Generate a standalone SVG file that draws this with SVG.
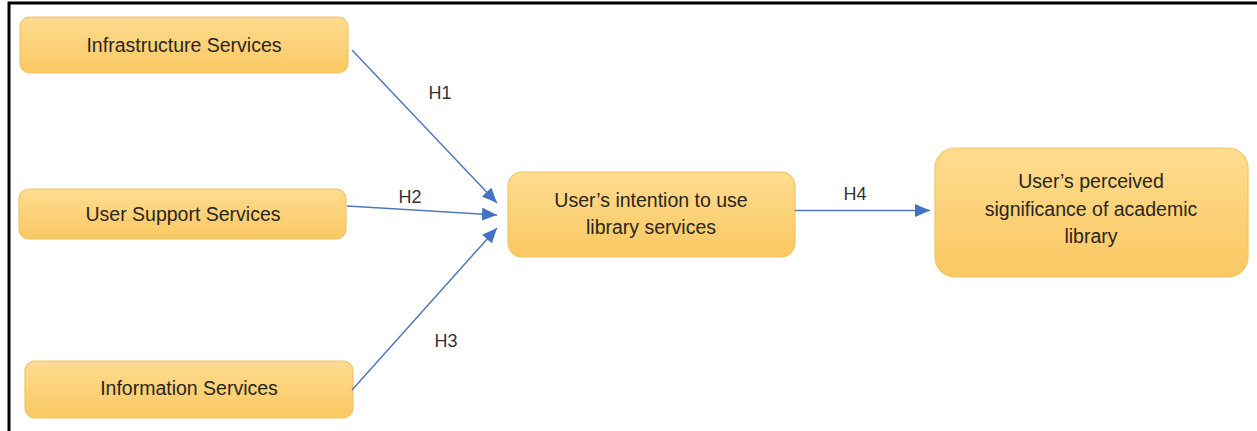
<svg xmlns="http://www.w3.org/2000/svg" width="1257" height="431" viewBox="0 0 1257 431">
<defs>
<linearGradient id="g" x1="0" y1="0" x2="0" y2="1">
<stop offset="0" stop-color="#FEDC90"/>
<stop offset="1" stop-color="#F9C862"/>
</linearGradient>
<marker id="ah" viewBox="0 0 15 13" refX="15" refY="6.5" markerWidth="15" markerHeight="13" markerUnits="userSpaceOnUse" orient="auto">
<path d="M0,0 L15,6.5 L0,13 Z" fill="#4472C4"/>
</marker>
<style>
.box{fill:url(#g);stroke:#F0C468;stroke-width:1.2}
.t{font-family:"Liberation Sans",Arial,sans-serif;font-size:19.5px;fill:#2a2520;text-anchor:middle}
.lbl{font-family:"Liberation Sans",Arial,sans-serif;font-size:18px;fill:#333;text-anchor:middle}
.c{stroke:#5078BC;stroke-width:1.5;fill:none;marker-end:url(#ah)}
</style>
</defs>
<rect x="0" y="0" width="1257" height="431" fill="#fff"/>
<path d="M9,431 L9,3 L1257,3" fill="none" stroke="#000" stroke-width="3"/>
<g id="infrastructure">
<rect class="box" x="20" y="17" width="328" height="56" rx="10"/>
<text class="t" x="184" y="52">Infrastructure Services</text>
</g>
<g id="usersupport">
<rect class="box" x="19" y="189" width="327" height="50" rx="10"/>
<text class="t" x="183" y="221">User Support Services</text>
</g>
<g id="information">
<rect class="box" x="25" y="361" width="328" height="57" rx="10"/>
<text class="t" x="189" y="395">Information Services</text>
</g>
<g id="intention">
<rect class="box" x="508" y="172" width="287" height="85" rx="14"/>
<text class="t" x="651" y="207">User’s intention to use</text>
<text class="t" x="651" y="234">library services</text>
</g>
<g id="perceived">
<rect class="box" x="935" y="148" width="313" height="129" rx="20"/>
<text class="t" x="1091" y="188">User’s perceived</text>
<text class="t" x="1091" y="216">significance of academic</text>
<text class="t" x="1091" y="243">library</text>
</g>
<g id="connectors">
<line class="c" x1="352" y1="50" x2="497" y2="203"/>
<line class="c" x1="347" y1="206" x2="497" y2="215"/>
<line class="c" x1="352" y1="390" x2="497" y2="228"/>
<line class="c" x1="795" y1="210.5" x2="930" y2="210.5"/>
<text class="lbl" x="440" y="99">H1</text>
<text class="lbl" x="410" y="203">H2</text>
<text class="lbl" x="446" y="347">H3</text>
<text class="lbl" x="855" y="200">H4</text>
</g>
</svg>
